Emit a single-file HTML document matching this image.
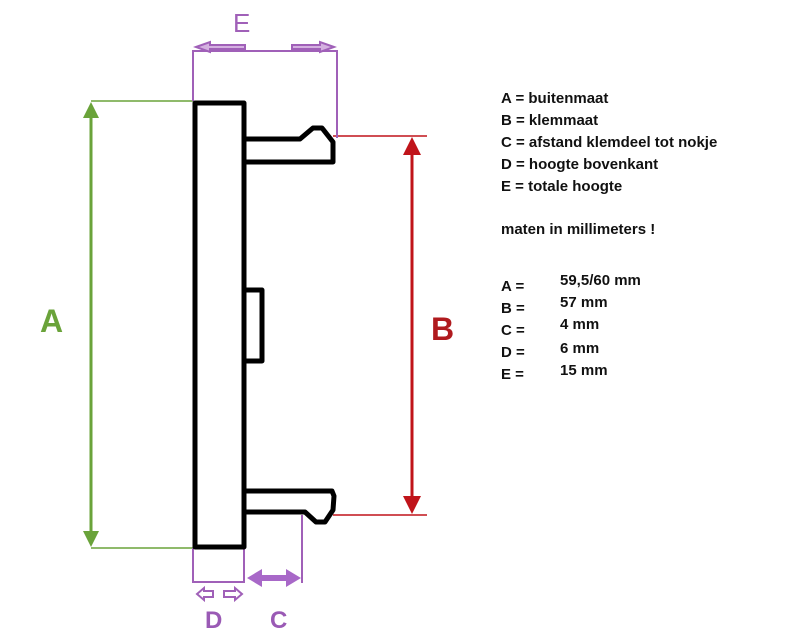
<!DOCTYPE html>
<html><head><style>
body{margin:0;background:#fff;width:800px;height:643px;overflow:hidden}
svg{position:absolute;left:0;top:0}
.t{font-family:"Liberation Sans",sans-serif;font-weight:bold;font-size:15px;fill:#111}
</style></head><body>
<svg width="800" height="643" viewBox="0 0 800 643">
<defs>
<marker id="ga" markerWidth="10" markerHeight="10" refX="5" refY="5" orient="auto-start-reverse" markerUnits="userSpaceOnUse"><path d="M0,0 L10,5 L0,10 Z" fill="#6aa33a"/></marker>
</defs>
<!-- green A -->
<g stroke="#6aa33a" fill="#6aa33a">
<line x1="91" y1="101" x2="193" y2="101" stroke-width="1.5"/>
<line x1="91" y1="548" x2="193" y2="548" stroke-width="1.5"/>
<line x1="91" y1="115" x2="91" y2="534" stroke-width="3"/>
<path d="M83,118 L91,102 L99,118 Z" stroke="none"/>
<path d="M83,531 L91,547 L99,531 Z" stroke="none"/>
</g>
<text x="40" y="332" font-family="Liberation Sans,sans-serif" font-weight="bold" font-size="32" fill="#6aa33a">A</text>
<!-- red B -->
<g stroke="#c0141a" fill="#c0141a">
<line x1="333" y1="136" x2="427" y2="136" stroke-width="1.5"/>
<line x1="333" y1="515" x2="427" y2="515" stroke-width="1.5"/>
<line x1="412" y1="150" x2="412" y2="500" stroke-width="3"/>
<path d="M403,155 L412,137 L421,155 Z" stroke="none"/>
<path d="M403,496 L412,514 L421,496 Z" stroke="none"/>
</g>
<text x="431" y="340" font-family="Liberation Sans,sans-serif" font-weight="bold" font-size="32" fill="#b01a1e">B</text>
<!-- purple E -->
<g stroke="#a060b8" fill="none" stroke-width="2">
<line x1="193" y1="50" x2="193" y2="101"/>
<line x1="337" y1="50" x2="337" y2="138"/>
<line x1="193" y1="51" x2="337" y2="51"/>
<path d="M196,47 L210,42 L210,45 L245,45 L245,49 L210,49 L210,52 Z" fill="#d4b0e0"/>
<path d="M334,47 L320,42 L320,45 L292,45 L292,49 L320,49 L320,52 Z" fill="#d4b0e0"/>
<!-- D -->
<line x1="193" y1="548" x2="193" y2="583"/>
<line x1="244" y1="548" x2="244" y2="583"/>
<line x1="193" y1="582" x2="244" y2="582"/>
<path d="M197,594 L204,588 L204,591 L213,591 L213,597 L204,597 L204,600 Z" fill="#fff"/>
<path d="M242,594 L235,588 L235,591 L224,591 L224,597 L235,597 L235,600 Z" fill="#fff"/>
<!-- C -->
<line x1="302" y1="515" x2="302" y2="583"/>
</g>
<path d="M247,578 L262,569 L262,575 L286,575 L286,569 L301,578 L286,587 L286,581 L262,581 L262,587 Z" fill="#a868c8"/>
<text x="233" y="32" font-family="Liberation Sans,sans-serif" font-size="26" fill="#a060b8">E</text>
<text x="205" y="628" font-family="Liberation Sans,sans-serif" font-weight="bold" font-size="24" fill="#9a5ab5">D</text>
<text x="270" y="628" font-family="Liberation Sans,sans-serif" font-weight="bold" font-size="24" fill="#9a5ab5">C</text>
<!-- body -->
<g stroke="#000" stroke-width="5" fill="none" stroke-linejoin="round">
<rect x="195" y="103" width="49" height="444"/>
<path d="M244,139 L300,139 L313,128 L322,128 L333,142 L333,162 L244,162"/>
<path d="M244,491 L332,491 L334,496 L333,510 L325,522 L316,522 L305,512 L244,512"/>
<path d="M244,290 L262,290 L262,361 L244,361"/>
</g>
<!-- text -->
<text class="t" x="501" y="103">A = buitenmaat</text>
<text class="t" x="501" y="125">B = klemmaat</text>
<text class="t" x="501" y="147">C = afstand klemdeel tot nokje</text>
<text class="t" x="501" y="169">D = hoogte bovenkant</text>
<text class="t" x="501" y="191">E = totale hoogte</text>
<text class="t" x="501" y="234">maten in millimeters !</text>
<text class="t" x="501" y="291">A =</text>
<text class="t" x="501" y="313">B =</text>
<text class="t" x="501" y="335">C =</text>
<text class="t" x="501" y="357">D =</text>
<text class="t" x="501" y="379">E =</text>
<text class="t" x="560" y="285">59,5/60 mm</text>
<text class="t" x="560" y="307">57 mm</text>
<text class="t" x="560" y="329">4 mm</text>
<text class="t" x="560" y="353">6 mm</text>
<text class="t" x="560" y="375">15 mm</text>
</svg>
</body></html>
